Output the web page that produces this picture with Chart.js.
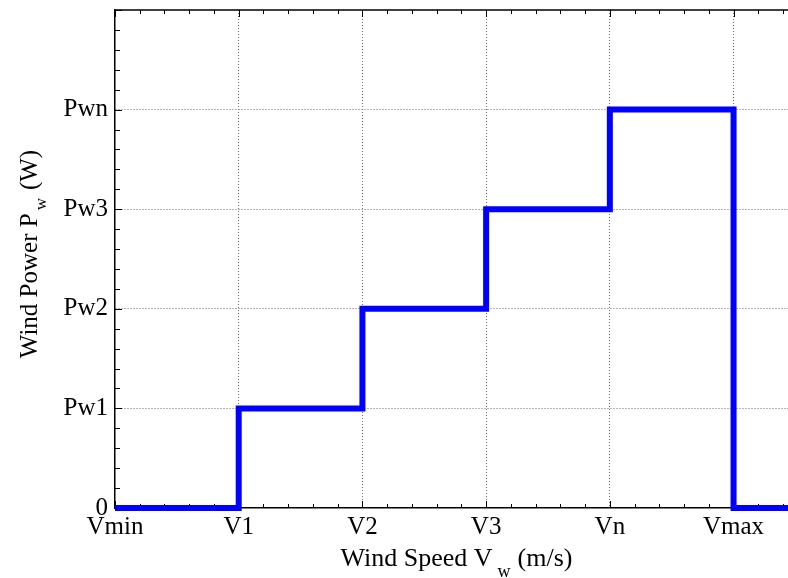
<!DOCTYPE html>
<html>
<head>
<meta charset="utf-8">
<script src="https://cdn.jsdelivr.net/npm/chart.js@4/dist/chart.umd.min.js"></script>
<style>
    html, body { margin: 0; padding: 0; background: #fff; }
    canvas { display: block; }
</style>
</head>
<body>
<canvas id="powerChart" width="788" height="578"></canvas>
<script>
// tick labels for both axes
const speedLabels = ['Vmin', 'V1', 'V2', 'V3', 'Vn', 'Vmax'];
const powerLabels = ['0', 'Pw1', 'Pw2', 'Pw3', 'Pwn'];

// step curve: power level held from each speed breakpoint onward
const speedSteps = [0, 1, 2, 3, 4, 5, 6];
const powerSteps = [0, 1, 2, 3, 4, 0, 0];

const X_MAX = 5.44;
const Y_MAX = 5;
const SERIF = '"Liberation Serif", "Times New Roman", serif';

// top frame line plus inward tick marks (major + 4 minor per step)
const framePlugin = {
    id: 'frame',
    beforeDatasetsDraw(chart) {
        const { ctx, chartArea: a, scales: { x, y } } = chart;
        ctx.save();
        ctx.strokeStyle = '#000';
        ctx.lineWidth = 1.5;
        ctx.beginPath();
        ctx.moveTo(a.left, a.top);
        ctx.lineTo(a.right, a.top);
        ctx.stroke();

        ctx.lineWidth = 1;
        ctx.beginPath();
        for (let i = 0; i * 0.2 <= X_MAX + 1e-6; i++) {
            const px = Math.round(x.getPixelForValue(i * 0.2)) + 0.5;
            const len = i % 5 === 0 ? 7 : 4;
            ctx.moveTo(px, a.bottom);
            ctx.lineTo(px, a.bottom - len);
            ctx.moveTo(px, a.top);
            ctx.lineTo(px, a.top + len);
        }
        for (let i = 0; i * 0.2 <= Y_MAX + 1e-6; i++) {
            const py = Math.round(y.getPixelForValue(i * 0.2)) + 0.5;
            const len = i % 5 === 0 ? 7 : 5;
            ctx.moveTo(a.left, py);
            ctx.lineTo(a.left + len, py);
        }
        ctx.stroke();
        ctx.restore();
    }
};

// draws main text + subscript + rest, centred on the origin
function drawSubText(ctx, main, sub, rest, size, subSize, subDrop, gapBefore, gapAfter) {
    const big = size + 'px ' + SERIF;
    const small = subSize + 'px ' + SERIF;
    ctx.font = big;
    const w1 = ctx.measureText(main).width;
    const w3 = ctx.measureText(rest).width;
    ctx.font = small;
    const w2 = ctx.measureText(sub).width;
    let cx = -(w1 + gapBefore + w2 + gapAfter + w3) / 2;
    ctx.textBaseline = 'alphabetic';
    ctx.textAlign = 'left';
    ctx.fillStyle = '#000';
    ctx.font = big;
    ctx.fillText(main, cx, 0);
    cx += w1 + gapBefore;
    ctx.font = small;
    ctx.fillText(sub, cx, subDrop);
    cx += w2 + gapAfter;
    ctx.font = big;
    ctx.fillText(rest, cx, 0);
}

const titlePlugin = {
    id: 'axisTitles',
    afterDraw(chart) {
        const { ctx, chartArea: a } = chart;
        ctx.save();
        ctx.translate((a.left + a.right) / 2 + 5, 566);
        drawSubText(ctx, 'Wind Speed V', 'w', '(m/s)', 26, 18, 11, 5, 7);
        ctx.restore();

        ctx.save();
        ctx.translate(37, 254);
        ctx.rotate(-Math.PI / 2);
        drawSubText(ctx, 'Wind Power P', 'w', '(W)', 25, 17, 9, 3, 8);
        ctx.restore();
    }
};

const gridColor = (c) => (c.tick && c.tick.value === 0 ? 'rgba(0,0,0,0)' : '#6e6e6e');

new Chart(document.getElementById('powerChart'), {
    type: 'line',
    data: {
        datasets: [{
            data: speedSteps.map((v, i) => ({ x: v, y: powerSteps[i] })),
            stepped: true,
            borderColor: '#0000ff',
            borderWidth: 6,
            borderJoinStyle: 'miter',
            pointRadius: 0,
            fill: false,
            clip: false
        }]
    },
    options: {
        responsive: false,
        animation: false,
        devicePixelRatio: 1,
        layout: { padding: { top: 10, left: 0, right: 0, bottom: 0 } },
        plugins: { legend: { display: false }, tooltip: { enabled: false } },
        scales: {
            x: {
                type: 'linear',
                min: 0,
                max: X_MAX,
                afterBuildTicks: (s) => { s.ticks = speedLabels.map((_, i) => ({ value: i })); },
                afterFit: (s) => { s.height = 70; s.paddingRight = 0; },
                ticks: {
                    callback: (v) => speedLabels[v] ?? '',
                    font: { family: SERIF, size: 25 },
                    color: '#000',
                    padding: 4,
                    maxRotation: 0,
                    autoSkip: false
                },
                grid: { drawTicks: false, color: gridColor, lineWidth: 1 },
                border: { color: '#000', width: 1.5, dash: [1, 2] }
            },
            y: {
                min: 0,
                max: Y_MAX,
                afterBuildTicks: (s) => { s.ticks = powerLabels.map((_, i) => ({ value: i })); },
                afterFit: (s) => { s.width = 115; s.paddingTop = 0; s.paddingBottom = 0; },
                ticks: {
                    callback: (v) => powerLabels[v] ?? '',
                    font: { family: SERIF, size: 25 },
                    color: '#000',
                    padding: 7,
                    autoSkip: false
                },
                grid: { drawTicks: false, color: gridColor, lineWidth: 1 },
                border: { color: '#000', width: 1.5, dash: [1, 2] }
            }
        }
    },
    plugins: [framePlugin, titlePlugin]
});
</script>
</body>
</html>
